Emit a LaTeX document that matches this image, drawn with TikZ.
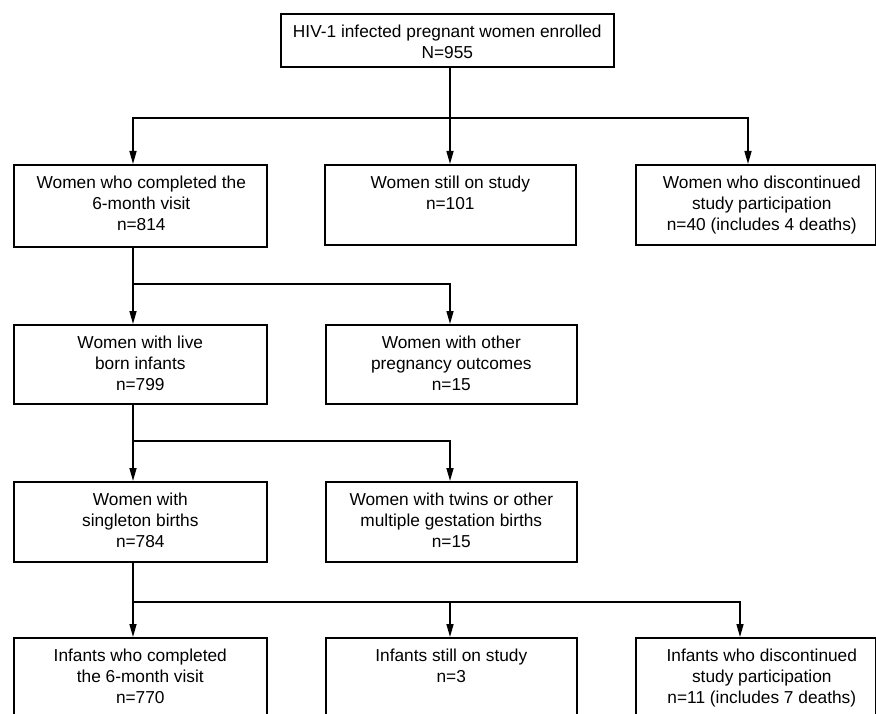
\documentclass[tikz,border=0pt]{standalone}
\usepackage{fontspec}
\setmainfont{Liberation Sans}
\usetikzlibrary{arrows.meta}
\begin{document}
\begin{tikzpicture}[x=1pt,y=-1pt,
  boxst/.style={draw, line width=1.6pt, inner sep=0pt, anchor=north west},
  txt/.style={font=\fontsize{17.3}{21}\selectfont, align=center, inner sep=0pt, anchor=north},
  conn/.style={line width=1.5pt},
  arr/.style={line width=1.5pt, -{Triangle[length=13pt,width=7pt]}}]
\useasboundingbox (0,0) rectangle (876,714);
\clip (0,0) rectangle (876,714);
% column and junction coordinates
\coordinate (cL) at (133,0);
\coordinate (cM) at (450,0);
\coordinate (cR) at (748,0);
\coordinate (cRb) at (740,0);
\coordinate (j1) at (0,118);
\coordinate (j2) at (0,284);
\coordinate (j3) at (0,441);
\coordinate (j4) at (0,602);
% boxes
\node[boxst, minimum width=333pt, minimum height=53pt] (top) at (280,13) {};
\node[boxst, minimum width=253pt, minimum height=82pt] (r2l) at (13,164) {};
\node[boxst, minimum width=251pt, minimum height=80pt] (r2m) at (324,164) {};
\node[boxst, minimum width=240pt, minimum height=80pt] (r2r) at (635,164) {};
\node[boxst, minimum width=253pt, minimum height=79pt] (r3l) at (13,324) {};
\node[boxst, minimum width=251pt, minimum height=79pt] (r3r) at (325,324) {};
\node[boxst, minimum width=253pt, minimum height=80pt] (r4l) at (13,481) {};
\node[boxst, minimum width=251pt, minimum height=80pt] (r4r) at (325,481) {};
\node[boxst, minimum width=253pt, minimum height=110pt] (r5l) at (13,637) {};
\node[boxst, minimum width=251pt, minimum height=110pt] (r5m) at (325,637) {};
\node[boxst, minimum width=240pt, minimum height=110pt] (r5r) at (635,637) {};
% texts
\node[txt] (topt) at ([yshift=-12pt]top.north) {HIV-1 infected pregnant women enrolled\\N=955};
\node[txt] (r2lt) at ([xshift=1pt,yshift=-12pt]r2l.north) {Women who completed the\\6-month visit\\n=814};
\node[txt] (r2mt) at ([yshift=-12pt]r2m.north) {Women still on study\\n=101};
\node[txt] (r2rt) at ([xshift=6pt,yshift=-12pt]r2r.north) {Women who discontinued\\study participation\\n=40 (includes 4 deaths)};
\node[txt] (r3lt) at ([yshift=-12pt]r3l.north) {Women with live\\born infants\\n=799};
\node[txt] (r3rt) at ([yshift=-12pt]r3r.north) {Women with other\\pregnancy outcomes\\n=15};
\node[txt] (r4lt) at ([yshift=-12pt]r4l.north) {Women with\\singleton births\\n=784};
\node[txt] (r4rt) at ([yshift=-12pt]r4r.north) {Women with twins or other\\multiple gestation births\\n=15};
\node[txt] (r5lt) at ([yshift=-12pt]r5l.north) {Infants who completed\\the 6-month visit\\n=770};
\node[txt] (r5mt) at ([yshift=-12pt]r5m.north) {Infants still on study\\n=3};
\node[txt] (r5rt) at ([xshift=6pt,yshift=-12pt]r5r.north) {Infants who discontinued\\study participation\\n=11 (includes 7 deaths)};
% connectors: enrolment split
\draw[conn] (top.south -| cM) -- (cM |- j1);
\draw[arr] (cM |- j1) -- (r2m.north -| cM);
\draw[arr] (cM |- j1) -| (r2l.north -| cL);
\draw[arr] (cM |- j1) -| (r2r.north -| cR);
% completed -> live born / other
\draw[arr] (r2l.south -| cL) -- (r3l.north -| cL);
\draw[arr] (cL |- j2) -| (r3r.north -| cM);
% live born -> singleton / twins
\draw[arr] (r3l.south -| cL) -- (r4l.north -| cL);
\draw[arr] (cL |- j3) -| (r4r.north -| cM);
% singleton -> infants
\draw[arr] (r4l.south -| cL) -- (r5l.north -| cL);
\draw[arr] (cL |- j4) -| (r5m.north -| cM);
\draw[arr] (cM |- j4) -| (r5r.north -| cRb);
\end{tikzpicture}
\end{document}
